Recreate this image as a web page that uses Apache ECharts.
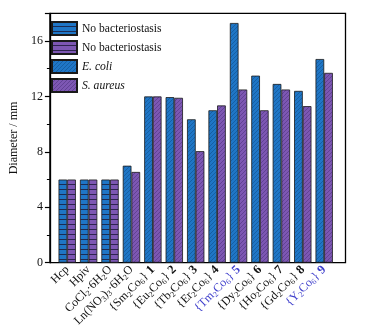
<!DOCTYPE html>
<html lang="en">
<head>
    <meta charset="UTF-8">
    <title>Diameter</title>
    <script src="https://cdn.jsdelivr.net/npm/echarts@6/dist/echarts.min.js"></script>
</head>
<body style="margin:0">
<div id="main" style="width: 367px;height:331px;"></div>

<script>
    // category labels (rich text: s = subscript, n = bold number)
    var categories = ['Hcp', 'Hpiv', 'CoCl{s|2}·6H{s|2}O', 'Ln(NO{s|3}){s|3}·6H{s|2}O',
        '{Sm{s|2}Co{s|6}} {n|1}', '{Eu{s|2}Co{s|6}} {n|2}', '{Tb{s|2}Co{s|6}} {n|3}',
        '{Er{s|2}Co{s|6}} {n|4}', '{Tm{s|2}Co{s|6}} {n|5}', '{Dy{s|2}Co{s|6}} {n|6}',
        '{Ho{s|2}Co{s|6}} {n|7}', '{Gd{s|2}Co{s|6}} {n|8}', '{Y{s|2}Co{s|6}} {n|9}'];
    var blueLabels = [8, 12];
    var eColi = [6, 6, 6, 7.0, 12.0, 11.95, 10.35, 11.0, 17.3, 13.5, 12.9, 12.4, 14.7];
    var sAureus = [6, 6, 6, 6.55, 12.0, 11.9, 8.05, 11.35, 12.5, 11.0, 12.5, 11.3, 13.7];
    var noBactCount = 3;   // first three have no bacteriostasis
    var yTicks = [0, 4, 8, 12, 16];

    var font = 'Liberation Serif';

    function hatch(bg, line) {
        var c = document.createElement('canvas');
        c.width = 4; c.height = 4;
        var g = c.getContext('2d');
        g.fillStyle = bg; g.fillRect(0, 0, 4, 4);
        g.strokeStyle = line; g.lineWidth = 0.8;
        g.beginPath();
        g.moveTo(-1, 5); g.lineTo(5, -1);
        g.moveTo(-1, 1); g.lineTo(1, -1);
        g.moveTo(3, 5); g.lineTo(5, 3);
        g.stroke();
        return {image: c, repeat: 'repeat'};
    }
    function rows(bg, line) {
        var c = document.createElement('canvas');
        c.width = 8; c.height = 5;
        var g = c.getContext('2d');
        g.fillStyle = bg; g.fillRect(0, 0, 8, 5);
        g.fillStyle = line; g.fillRect(0, 4, 8, 1);
        return {image: c, repeat: 'repeat'};
    }

    var blue = '#1f76c6', purple = '#7d57b3';
    var xData = categories.map(function (c, i) {
        if (blueLabels.indexOf(i) >= 0) return {value: c, textStyle: {color: '#4040cc'}};
        return c;
    });
    function part(arr, first) {
        return arr.map(function (v, i) { return (i < noBactCount) === first ? v : '-'; });
    }

    var chart = echarts.init(document.getElementById('main'));
    var border = {borderColor: '#1a1a1a', borderWidth: 0.8};
    var option = {
        animation: false,
        textStyle: {fontFamily: font},
        grid: [
            {left: 43, right: 21.5, top: 13.3, bottom: 68.3, show: true, borderColor: '#000', borderWidth: 1.3},
            {left: 56.5, right: 32.1, top: 13.3, bottom: 68.3}
        ],
        legend: {
            orient: 'vertical', left: 46, top: 16, itemWidth: 25, itemHeight: 13, itemGap: 4,
            selectedMode: false, icon: 'rect',
            formatter: function (n) { return n.trim(); },
            textStyle: {fontFamily: font, fontSize: 11.6, color: '#111'},
            data: [
                {name: 'No bacteriostasis'},
                {name: 'No bacteriostasis '},
                {name: 'E. coli', textStyle: {fontStyle: 'italic'}},
                {name: 'S. aureus', textStyle: {fontStyle: 'italic'}}
            ]
        },
        xAxis: [
            {gridIndex: 0, type: 'value', show: false, min: 0, max: 1},
            {
                gridIndex: 1, type: 'category', data: xData,
                axisLine: {show: false},
                axisTick: {alignWithLabel: true, interval: 0, length: 4, lineStyle: {color: '#000', width: 1.2}},
                axisLabel: {
                    interval: 0, rotate: 45, margin: 5, fontFamily: font, fontSize: 12, color: '#111', lineHeight: 14,
                    rich: {
                        s: {fontSize: 8, lineHeight: 7, verticalAlign: 'bottom', fontFamily: font},
                        n: {fontSize: 12.5, fontWeight: 'bold', fontFamily: font}
                    }
                }
            }
        ],
        yAxis: [
            {
                gridIndex: 0, type: 'value', min: 0, max: 18, interval: 4,
                name: 'Diameter / mm', nameLocation: 'middle', nameGap: 18,
                nameTextStyle: {fontFamily: font, fontSize: 12, color: '#111'},
                splitLine: {show: false},
                axisLine: {show: true, lineStyle: {color: '#000', width: 1.3}},
                axisTick: {length: 5, lineStyle: {color: '#000', width: 1.2}},
                minorTick: {show: true, splitNumber: 2, length: 3, lineStyle: {color: '#000', width: 1}},
                axisLabel: {
                    fontFamily: font, fontSize: 12, color: '#111', margin: 7, showMaxLabel: false,
                    formatter: function (v) { return yTicks.indexOf(v) >= 0 ? v : ''; }
                }
            },
            {gridIndex: 1, type: 'value', min: 0, max: 18, show: false}
        ],
        series: [
            {name: 'No bacteriostasis', type: 'bar', xAxisIndex: 1, yAxisIndex: 1, stack: 'b',
                barWidth: '40.5%', barGap: '0%',
                itemStyle: Object.assign({color: rows(blue, '#1b2c55')}, border), data: part(eColi, true)},
            {name: 'No bacteriostasis ', type: 'bar', xAxisIndex: 1, yAxisIndex: 1, stack: 'p',
                barWidth: '40.5%', barGap: '0%',
                itemStyle: Object.assign({color: rows(purple, '#2e2350')}, border), data: part(sAureus, true)},
            {name: 'E. coli', type: 'bar', xAxisIndex: 1, yAxisIndex: 1, stack: 'b',
                barWidth: '40.5%', barGap: '0%',
                itemStyle: Object.assign({color: hatch(blue, '#14599b')}, border), data: part(eColi, false)},
            {name: 'S. aureus', type: 'bar', xAxisIndex: 1, yAxisIndex: 1, stack: 'p',
                barWidth: '40.5%', barGap: '0%',
                itemStyle: Object.assign({color: hatch(purple, '#5b3c8c')}, border), data: part(sAureus, false)}
        ]
    };
    chart.setOption(option);
</script>
</body>
</html>
